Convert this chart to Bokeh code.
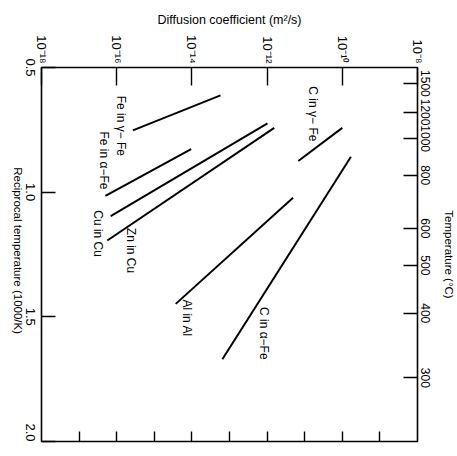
import math
from bokeh.plotting import figure
from bokeh.models import Range1d, FixedTicker, LinearAxis, ColumnDataSource
from bokeh.core.properties import value
from bokeh.embed import file_html
from bokeh.resources import INLINE

# ---- data ----
species = ["Fe in \u03b3\u2212 Fe", "Fe in \u03b1\u2212Fe", "Cu in Cu", "Zn in Cu",
           "Al in Al", "C in \u03b1\u2212Fe", "C in \u03b3\u2212 Fe"]
# reciprocal temperature (1000/K) at the two ends of each line
inv_t_cold = [0.752, 1.015, 1.096, 1.194, 1.448, 1.670, 0.875]
inv_t_hot = [0.612, 0.827, 0.724, 0.742, 1.022, 0.858, 0.742]
# log10 of diffusion coefficient (m^2/s) at those ends
log_d_cold = [-15.57, -16.30, -16.16, -16.25, -14.43, -13.19, -11.17]
log_d_hot = [-13.24, -14.02, -11.99, -11.81, -11.31, -9.77, -10.00]
# label anchors
label_log_d = [-15.89, -16.34, -16.50, -15.63, -14.12, -12.09, -10.79]
label_inv_t = [0.734, 0.873, 1.166, 1.234, 1.505, 1.566, 0.686]

d_exponents = [-18, -16, -14, -12, -10, -8]
d_labels = ["10\u207b\u00b9\u2078", "10\u207b\u00b9\u2076", "10\u207b\u00b9\u2074",
            "10\u207b\u00b9\u00b2", "10\u207b\u00b9\u2070", "10\u207b\u2078"]
inv_t_ticks = [0.5, 1.0, 1.5, 2.0]
inv_t_labels = ["0.5", "1.0", "1.5", "2.0"]
temps_c = [1500, 1200, 1000, 800, 600, 500, 400, 300]

x_title = "Diffusion coefficient (m\u00b2/s)"
y_title = "Reciprocal temperature (1000/K)"
t_title = "Temperature (\u00b0C)"

FONT = "Liberation Sans"
Y0, Y1 = 2.0, 0.5
FRAME_H = 374

p = figure(frame_width=376, frame_height=FRAME_H,
           min_border_left=41, min_border_right=36, min_border_top=67, min_border_bottom=7,
           x_range=Range1d(-18, -8), y_range=Range1d(Y0, Y1),
           x_axis_location="above", output_backend="svg", toolbar_location=None)
p.grid.visible = False
p.outline_line_color = "black"
p.outline_line_width = 1.6
p.background_fill_color = "white"
p.border_fill_color = "white"

def style_axis(ax, tick_in, size="13px", orient=-math.pi / 2):
    ax.axis_line_color = None
    ax.major_tick_in = tick_in
    ax.major_tick_out = 0
    ax.minor_tick_in = 0
    ax.minor_tick_out = 0
    ax.major_tick_line_color = "black"
    ax.major_tick_line_width = 1.4
    ax.major_label_text_font = FONT
    ax.major_label_text_font_size = size
    ax.major_label_text_color = "black"
    ax.major_label_orientation = orient
    ax.axis_label_text_font = FONT
    ax.axis_label_text_font_style = "normal"
    ax.axis_label_text_color = "black"

def marks_only(ax, ticks):
    ax.major_label_overrides = {t: "" for t in ticks}
    ax.major_label_text_font_size = "1px"
    ax.major_label_standoff = 0

# top axis: diffusion coefficient
top = p.xaxis[0]
top.ticker = FixedTicker(ticks=d_exponents)
top.major_label_overrides = dict(zip(d_exponents, d_labels))
style_axis(top, 18)
top.major_label_standoff = 4
top.axis_label = x_title
top.axis_label_text_font_size = "12.5px"
top.axis_label_standoff = 5

# bottom axis: tick marks only, one per decade
bottom_ticks = list(range(-17, -8))
bottom = LinearAxis(ticker=FixedTicker(ticks=bottom_ticks))
style_axis(bottom, 10)
marks_only(bottom, bottom_ticks)
p.add_layout(bottom, "below")

# left: tick marks on the inner axis
left = p.yaxis[0]
left.ticker = FixedTicker(ticks=inv_t_ticks)
style_axis(left, 14)
marks_only(left, inv_t_ticks)

# left: tick labels on a second axis whose range is nudged so that
# the rotated (top-to-bottom) labels sit centred on their ticks
shift_px = 9
dl = shift_px * (Y0 - Y1) / FRAME_H
p.extra_y_ranges = {"ylab": Range1d(Y0 - dl, Y1 - dl)}
lab_ticks = [t if t < Y0 else t - dl for t in inv_t_ticks]
left_lab = LinearAxis(y_range_name="ylab", ticker=FixedTicker(ticks=lab_ticks))
style_axis(left_lab, 0)
left_lab.major_tick_line_color = None
left_lab.major_label_overrides = dict(zip(lab_ticks, inv_t_labels))
left_lab.major_label_standoff = 11
p.add_layout(left_lab, "left")

# left: axis title, written top-to-bottom and centred along the axis
# (a rotated text in Bokeh is anchored at its end, so anchor it half its length
#  below the axis centre)
title_end = 1.569
left_title = LinearAxis(ticker=FixedTicker(ticks=[title_end]))
style_axis(left_title, 0, "11.5px")
left_title.major_tick_line_color = None
left_title.major_label_overrides = {title_end: y_title}
left_title.major_label_standoff = 1
p.add_layout(left_title, "left")

# right axis: temperature in deg C
temp_pos = [1000.0 / (t + 273.15) for t in temps_c]
right = LinearAxis(ticker=FixedTicker(ticks=temp_pos))
right.major_label_overrides = {pos: str(t) for pos, t in zip(temp_pos, temps_c)}
style_axis(right, 14, "12px", "vertical")
right.major_label_standoff = 3
right.axis_label = t_title
right.axis_label_text_font_size = "11.5px"
right.axis_label_standoff = 10
p.add_layout(right, "right")

# lines
src = ColumnDataSource(dict(x0=log_d_cold, y0=inv_t_cold, x1=log_d_hot, y1=inv_t_hot))
p.segment(x0="x0", y0="y0", x1="x1", y1="y1", source=src, line_color="black", line_width=2)

lab = ColumnDataSource(dict(x=label_log_d, y=label_inv_t, text=species))
p.text(x="x", y="y", text="text", source=lab, angle=-math.pi / 2,
       text_align="center", text_baseline="middle",
       text_font=value(FONT), text_font_size="12px", text_color="black")

open("out.html", "w").write(file_html(p, INLINE))
